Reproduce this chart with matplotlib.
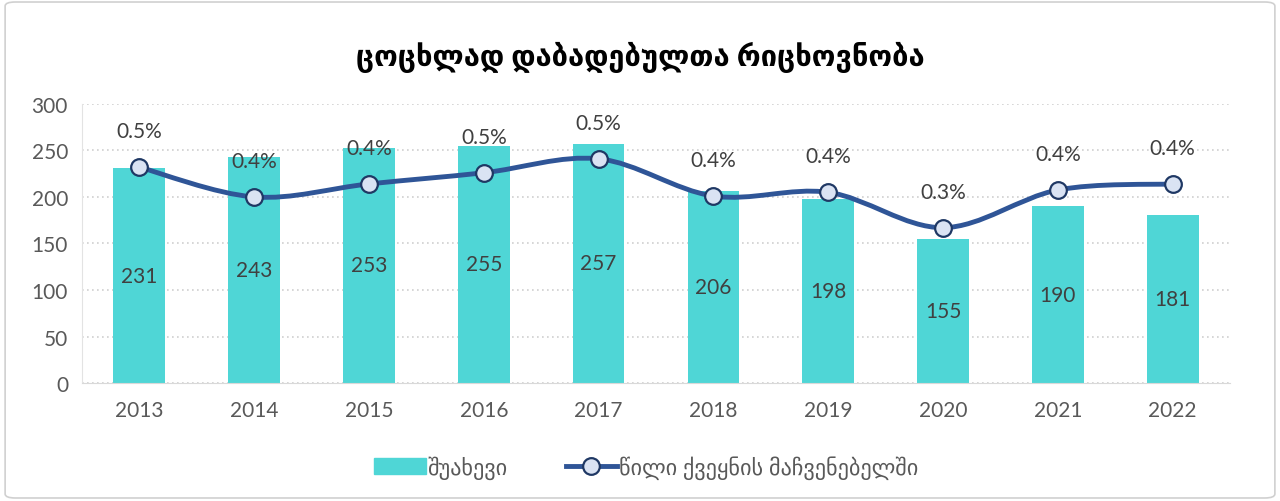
import matplotlib
matplotlib.use("Agg")
import matplotlib.pyplot as plt
from matplotlib.path import Path
from matplotlib.patches import PathPatch, FancyBboxPatch, Patch
from matplotlib.lines import Line2D
import numpy as np

# data
years = ['2013', '2014', '2015', '2016', '2017', '2018', '2019', '2020', '2021', '2022']
counts = [231, 243, 253, 255, 257, 206, 198, 155, 190, 181]
shares = [0.464, 0.400, 0.428, 0.452, 0.482, 0.402, 0.410, 0.334, 0.415, 0.428]
share_labels = ['0.5%', '0.4%', '0.4%', '0.5%', '0.5%', '0.4%', '0.4%', '0.3%', '0.4%', '0.4%']
title = 'ცოცხლად დაბადებულთა რიცხოვნობა'
bar_name = 'შუახევი'
line_name = 'წილი ქვეყნის მაჩვენებელში'

plt.rcParams['font.family'] = ['Lato', 'DejaVu Sans']
grey = '#595959'
bar_col = '#4FD6D6'
line_col = '#2F5597'
mk_face = '#DAE3F3'
mk_edge = '#1F3864'

fig = plt.figure(figsize=(12.8, 5.02), dpi=100)
fig.patches.append(FancyBboxPatch((0.004, 0.006), 0.992, 0.988, boxstyle='round,pad=0,rounding_size=0.008',
                                  transform=fig.transFigure, fc='white', ec='#D0D0D0', lw=1.2, zorder=-5))
ax = fig.add_axes([0.064, 0.235, 0.897, 0.556])
x = np.arange(len(years))

ax.bar(x, counts, width=0.45, color=bar_col, zorder=2)
for xi, v in zip(x, counts):
    ax.text(xi, v / 2, str(v), ha='center', va='center', fontsize=15, color='#404040', zorder=3)

ax.set_ylim(0, 300)
ax.set_xlim(-0.5, len(years) - 0.5)
ax.set_yticks(range(0, 301, 50))
ax.set_xticks(x)
ax.set_xticklabels(years)
ax.tick_params(axis='both', length=0, labelsize=15, labelcolor=grey)
ax.tick_params(axis='x', pad=12)
ax.tick_params(axis='y', pad=10)
ax.grid(axis='y', color='#D0D0D0', linestyle=(0, (1, 2)), lw=1.2, zorder=0)
for s in ['top', 'right']:
    ax.spines[s].set_visible(False)
ax.spines['bottom'].set_color('#D9D9D9')
ax.spines['left'].set_color('#E3E3E3')

ax2 = ax.twinx()
ax2.set_ylim(0, 0.6)
ax2.axis('off')

# smooth curve through the points (bezier, like the spreadsheet "smoothed line")
pts = np.column_stack([x, shares]).astype(float)
n = len(pts)
verts = [pts[0]]
codes = [Path.MOVETO]
for i in range(n - 1):
    p0 = pts[max(i - 1, 0)]
    p1 = pts[i]
    p2 = pts[i + 1]
    p3 = pts[min(i + 2, n - 1)]
    c1 = p1 + (p2 - p0) / 6
    c2 = p2 - (p3 - p1) / 6
    verts += [c1, c2, p2]
    codes += [Path.CURVE4] * 3
ax2.add_patch(PathPatch(Path(verts, codes), fc='none', ec=line_col, lw=3.5, zorder=4, capstyle='round'))
ax2.plot(x, shares, ls='none', marker='o', ms=12, mfc=mk_face, mec=mk_edge, mew=1.6, zorder=5)
for xi, v, lab in zip(x, shares, share_labels):
    ax2.annotate(lab, (xi, v), xytext=(0, 26), textcoords='offset points', ha='center', va='center',
                 fontsize=15, color='#404040', zorder=6)

fig.text(0.5, 0.886, title, ha='center', va='center', fontsize=21, fontweight='bold', color='black')

handles = [Patch(color=bar_col),
           Line2D([], [], color=line_col, lw=3.5, marker='o', ms=12, mfc=mk_face, mec=mk_edge, mew=1.6)]
fig.legend(handles, [bar_name, line_name], loc='center', bbox_to_anchor=(0.505, 0.068), ncol=2, frameon=False,
           fontsize=16, labelcolor=grey, handlelength=2.3, handletextpad=0.1, columnspacing=2.6)

fig.savefig('out.png', dpi=100, facecolor='white')
